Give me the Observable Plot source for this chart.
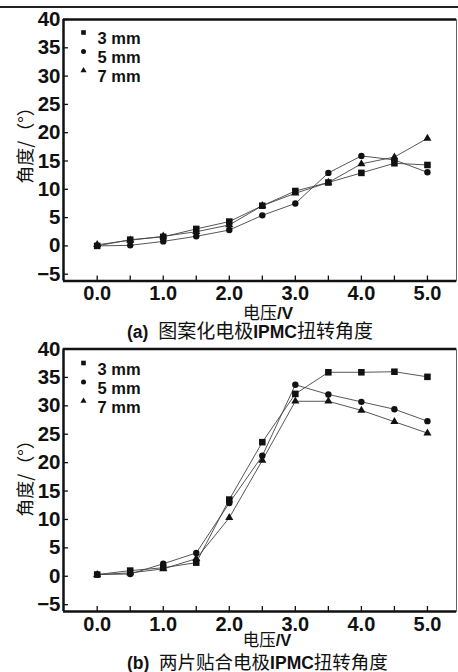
<!DOCTYPE html>
<html><head><meta charset="utf-8">
<script src="https://cdn.jsdelivr.net/npm/d3@7"></script>
<script src="https://cdn.jsdelivr.net/npm/@observablehq/plot@0.6"></script>
<style>
body{margin:0;background:#fff;}
#wrap{position:relative;width:458px;height:672px;overflow:hidden;background:#fff;font-family:"Liberation Sans",Arial,sans-serif;color:#111;}
.panel{position:absolute;left:0;}
.lbl{position:absolute;white-space:nowrap;line-height:1;color:#111;}
.cjk{font-family:"Noto Sans CJK SC",sans-serif;font-weight:400;}
.b{font-family:"Liberation Sans",Arial,sans-serif;font-weight:bold;}
.ib{display:inline-block;line-height:1;}
#topline{position:absolute;left:0;top:6px;width:458px;height:1.5px;background:#222;}
</style></head><body><div id="wrap">
<div id="topline"></div>
<div id="pa" class="panel" style="top:0px"></div>
<div id="pb" class="panel" style="top:330px"></div>
<div class="lbl" style="left:268px;top:312px;transform:translate(-50%,-50%);font-size:17px"><span class="cjk ib">电压</span><span class="b ib">/V</span></div>
<div class="lbl" style="left:267px;top:640px;transform:translate(-50%,-50%);font-size:16.5px"><span class="cjk ib">电压</span><span class="b ib">/V</span></div>
<div class="lbl cjk" style="left:24px;top:141px;transform:translate(-50%,-50%) rotate(-90deg);font-size:18px">角度/（°）</div>
<div class="lbl cjk" style="left:24px;top:474px;transform:translate(-50%,-50%) rotate(-90deg);font-size:18px">角度/（°）</div>
<div class="lbl" style="left:127px;top:331px;transform:translateY(-50%);font-size:17.5px"><span class="b ib">(a)</span>&nbsp; <span class="cjk ib" style="font-size:19px">图案化电极</span><span class="b ib">IPMC</span><span class="cjk ib" style="font-size:19px">扭转角度</span></div>
<div class="lbl" style="left:127px;top:661.5px;transform:translateY(-50%);font-size:17.5px"><span class="b ib">(b)</span>&nbsp; <span class="cjk ib" style="font-size:18.5px">两片贴合电极</span><span class="b ib">IPMC</span><span class="cjk ib" style="font-size:18.5px">扭转角度</span></div>
</div>
<script>
const voltage = [0, 0.5, 1.0, 1.5, 2.0, 2.5, 3.0, 3.5, 4.0, 4.5, 5.0];
const seriesNames = ["3 mm", "5 mm", "7 mm"];
const seriesSymbols = ["square", "circle", "triangle"];
// panel (a) 图案化电极IPMC扭转角度
const a3mm = [0.0, 1.1, 1.6, 3.0, 4.3, 7.1, 9.7, 11.2, 12.9, 14.6, 14.3];
const a5mm = [0.0, 0.1, 0.8, 1.7, 2.8, 5.4, 7.5, 12.9, 15.9, 15.2, 13.0];
const a7mm = [0.2, 1.0, 1.7, 2.5, 3.7, 7.1, 9.3, 11.2, 14.5, 15.7, 19.0];
// panel (b) 两片贴合电极IPMC扭转角度
const b3mm = [0.3, 1.0, 1.5, 2.4, 13.5, 23.6, 32.1, 35.9, 35.9, 36.0, 35.1];
const b5mm = [0.3, 0.4, 2.2, 4.1, 12.9, 21.2, 33.7, 32.0, 30.7, 29.4, 27.3];
const b7mm = [0.3, 0.6, 1.3, 3.1, 10.3, 20.4, 30.8, 30.8, 29.2, 27.2, 25.2];
const xTickLabels = [0, 1, 2, 3, 4, 5];
const xTickMarks = [0, 0.5, 1, 1.5, 2, 2.5, 3, 3.5, 4, 4.5, 5];
const yTicks = [-5, 0, 5, 10, 15, 20, 25, 30, 35, 40];
const xDomain = [-0.51, 5.44];
const yDomain = [-6.2, 40];

function toRows(series) {
  const rows = [];
  series.forEach((vals, i) => vals.forEach((a, j) => rows.push({s: seriesNames[i], v: voltage[j], a})));
  return rows;
}

function panel(el, mT, mB, rows, legDy) {
  const W = 458, H = 300, mL = 63, mR = 2;
  const fh = H - mT - mB, fw = W - mL - mR;
  const dotR = [3.7, 3.2, 3.0];
  const legR = [2.6, 2.5, 2.3];
  const marks = [
    Plot.frame({stroke: "#666", strokeWidth: 1}),
    Plot.ruleX([xDomain[0]], {stroke: "#111", strokeWidth: 2.5}),
    Plot.ruleY(yDomain, {stroke: "#111", strokeWidth: 2.5}),
    Plot.ruleX(xTickMarks, {insetTop: fh - 5, stroke: "#111", strokeWidth: 1.3}),
    Plot.ruleY(yTicks, {insetRight: fw - 5, stroke: "#111", strokeWidth: 1.3}),
    Plot.axisX({ticks: xTickLabels, tickSize: 0, tickPadding: 5, tickFormat: d3.format(".1f"), fontSize: 20, fontWeight: "bold", label: null}),
    Plot.axisY({ticks: yTicks, tickSize: 0, tickPadding: 3, fontSize: 20.5, fontWeight: "bold", label: null}),
    Plot.line(rows, {x: "v", y: "a", z: "s", stroke: "#444", strokeWidth: 0.9})
  ];
  seriesNames.forEach((name, i) => {
    marks.push(Plot.dot(rows.filter(d => d.s === name), {x: "v", y: "a", symbol: seriesSymbols[i], r: dotR[i], fill: "#111", stroke: "none"}));
    marks.push(Plot.dot([name], {frameAnchor: "top-left", dx: 20, dy: legDy + 19 * i, symbol: seriesSymbols[i], r: legR[i], fill: "#111", stroke: "none"}));
    marks.push(Plot.text([name], {frameAnchor: "top-left", dx: 34, dy: legDy + 19 * i, text: d => d, textAnchor: "start", fontSize: 16.5, fontWeight: "bold", fill: "#111"}));
  });
  const p = Plot.plot({
    width: W, height: H, marginLeft: mL, marginRight: mR, marginTop: mT, marginBottom: mB,
    style: {background: "transparent", fontFamily: "'Liberation Sans', Arial, sans-serif", color: "#111", overflow: "visible"},
    x: {domain: xDomain},
    y: {domain: yDomain},
    marks
  });
  document.getElementById(el).appendChild(p);
}

panel("pa", 19, 19.5, toRows([a3mm, a5mm, a7mm]), 13);
panel("pb", 18.5, 19, toRows([b3mm, b5mm, b7mm]), 14);
</script>
</body></html>
